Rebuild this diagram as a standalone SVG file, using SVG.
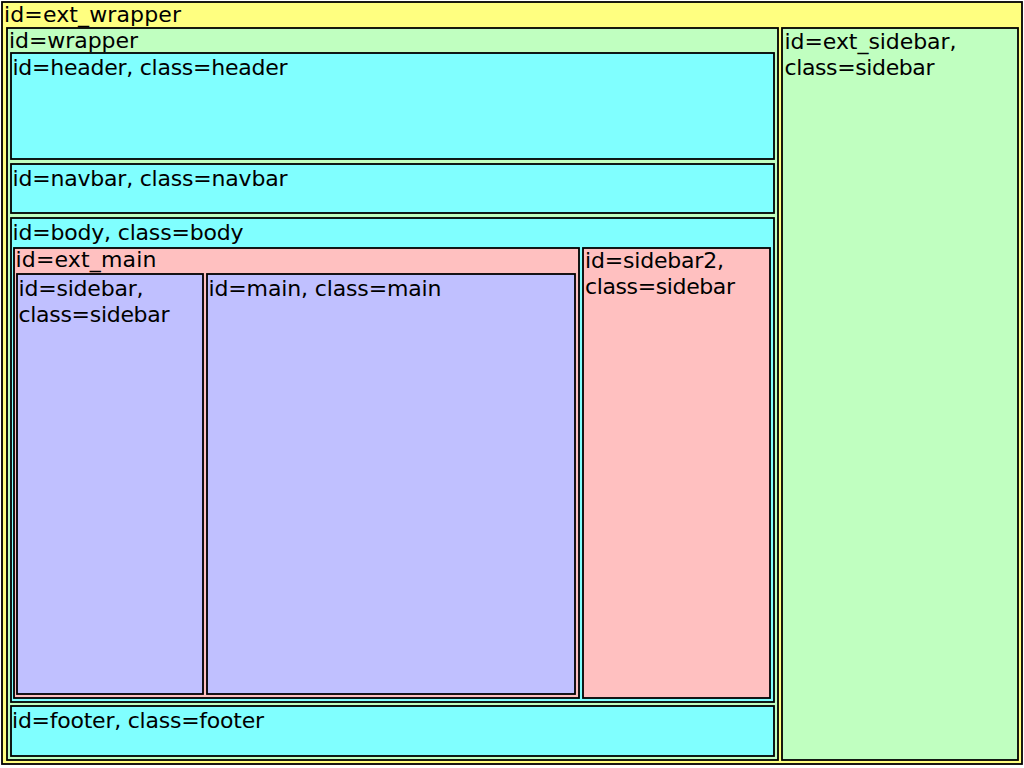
<svg xmlns="http://www.w3.org/2000/svg" width="1024" height="768" viewBox="0 0 1024 768">
<style>
rect{stroke:#000;stroke-width:1.8}
.y{fill:#ffff80}.g{fill:#c0ffc0}.c{fill:#80ffff}.p{fill:#ffc0c0}.l{fill:#c0c0ff}
text{font-family:"DejaVu Sans","Verdana",sans-serif;font-size:22px;fill:#000}
</style>
<rect width="1024" height="768" fill="#fff" style="stroke:none"/>
<g id="ext_wrapper"><rect class="y" x="2" y="2" width="1020" height="762"/><text x="4" y="22" textLength="177">id=ext_wrapper</text></g>
<g id="wrapper"><rect class="g" x="7" y="28" width="771" height="732"/><text x="9" y="48" textLength="129">id=wrapper</text></g>
<g id="ext_sidebar"><rect class="g" x="782" y="28" width="236" height="732"/><text x="784.5" y="48.5" textLength="172">id=ext_sidebar,</text><text x="784.5" y="74.5" textLength="150">class=sidebar</text></g>
<g id="header"><rect class="c" x="11" y="53" width="763" height="106"/><text x="12.5" y="74.5" textLength="275">id=header, class=header</text></g>
<g id="navbar"><rect class="c" x="11" y="164" width="763" height="49"/><text x="12.5" y="185.5" textLength="275">id=navbar, class=navbar</text></g>
<g id="body"><rect class="c" x="11" y="218" width="763" height="484"/><text x="12.5" y="239.5" textLength="231">id=body, class=body</text></g>
<g id="ext_main"><rect class="p" x="14" y="248" width="565" height="450"/><text x="15.5" y="266.5" textLength="141">id=ext_main</text></g>
<g id="sidebar2"><rect class="p" x="583" y="248" width="187" height="450"/><text x="585" y="268" textLength="139">id=sidebar2,</text><text x="585" y="294" textLength="150">class=sidebar</text></g>
<g id="sidebar"><rect class="l" x="17" y="274" width="186" height="420"/><text x="18.5" y="295.5" textLength="125">id=sidebar,</text><text x="18.5" y="321.5" textLength="151">class=sidebar</text></g>
<g id="main"><rect class="l" x="207" y="274" width="368" height="420"/><text x="208.5" y="295.5" textLength="233">id=main, class=main</text></g>
<g id="footer"><rect class="c" x="11" y="706" width="763" height="50"/><text x="12" y="727.5" textLength="252">id=footer, class=footer</text></g>
<g id="connectors"/>
</svg>
